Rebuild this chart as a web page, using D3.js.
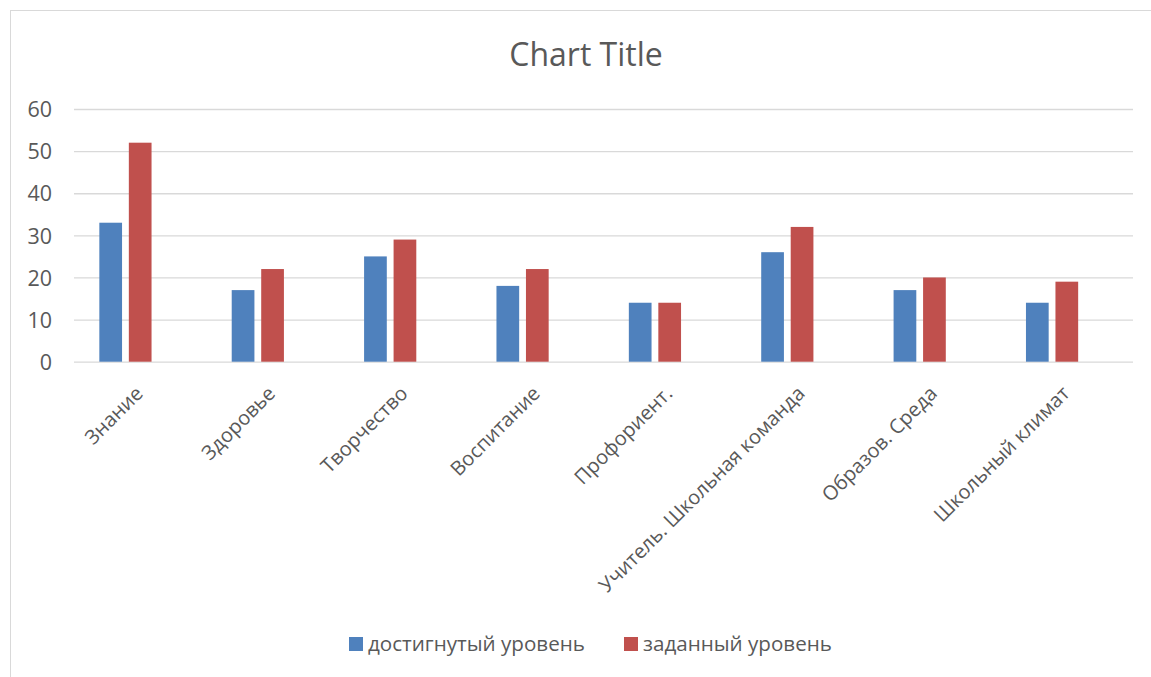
<!DOCTYPE html>
<html>
<head>
<meta charset="utf-8">
<script src="https://cdn.jsdelivr.net/npm/d3@7"></script>
<style>
	body { margin: 0; background: #fff; }
	text { font-family: "Open Sans", sans-serif; fill: #595959; }
</style>
</head>
<body>
<div class="container"></div>
<script>

var categories = ["Знание", "Здоровье", "Творчество", "Воспитание", "Профориент.",
				  "Учитель. Школьная команда", "Образов. Среда", "Школьный климат"];
var achieved = [33, 17, 25, 18, 14, 26, 17, 14]; // достигнутый уровень
var target = [52, 22, 29, 22, 14, 32, 20, 19];   // заданный уровень
var seriesNames = ["достигнутый уровень", "заданный уровень"];
var seriesColors = ["#4f81bd", "#c0504d"];
var yTicks = [0, 10, 20, 30, 40, 50, 60];

var W = 1151, H = 677;
var plotLeft = 74, plotRight = 1133, plotTop = 109, plotBottom = 361.7;

function makeStage(w, h) {
	var stage = d3.select(".container")
				  .append("svg")
				  .attr("width", w)
				  .attr("height", h);
	return stage;
}

var stage = makeStage(W, H);

// chart frame (runs past the window on the right and bottom)
stage.append("rect")
	 .attr("x", 10.5).attr("y", 10.5)
	 .attr("width", 1200).attr("height", 700)
	 .style("fill", "none")
	 .style("stroke", "#d9d9d9")
	 .style("stroke-width", "1px");

stage.append("text")
	 .attr("x", 586).attr("y", 66)
	 .attr("text-anchor", "middle")
	 .style("font-size", "32px")
	 .text("Chart Title");

var y = d3.scaleLinear().domain([0, 60]).range([plotBottom, plotTop]);
var x0 = d3.scaleBand().domain(categories).range([plotLeft, plotRight]);
// third slot is an empty series in the original, so the pair sits left of centre
var x1 = d3.scaleBand().domain([0, 1, 2])
		   .range([0, 81.7]).paddingInner(0.23);
var offset = (x0.bandwidth() - 81.7) / 2;

var yAxis = d3.axisLeft(y).tickValues(yTicks).tickSize(-(plotRight - plotLeft)).tickPadding(22);
var gy = stage.append("g")
			  .attr("transform", "translate(" + plotLeft + ",0)")
			  .call(yAxis);
gy.select(".domain").remove();
gy.selectAll("line").style("stroke", "#d9d9d9").style("stroke-width", "1.3px");
gy.selectAll("text").style("font-size", "21.5px").attr("dy", "0.36em");

var data = [achieved, target];
data.forEach(function (vals, s) {
	stage.append("g").selectAll("rect")
		 .data(vals)
		 .enter().append("rect")
		 .attr("x", function (d, i) { return x0(categories[i]) + offset + x1(s); })
		 .attr("width", x1.bandwidth())
		 .attr("y", function (d) { return y(d); })
		 .attr("height", function (d) { return y(0) - y(d); })
		 .style("fill", seriesColors[s]);
});

var xAxis = d3.axisBottom(x0).tickSize(0).tickPadding(0);
var gx = stage.append("g")
			  .attr("transform", "translate(0," + plotBottom + ")")
			  .call(xAxis);
gx.select(".domain").remove();
gx.selectAll("text")
  .style("font-size", "20px")
  .attr("text-anchor", "end")
  .attr("dy", "0")
  .attr("y", 0)
  .attr("transform", "translate(4,33) rotate(-45)");

// legend
var legend = stage.append("g");
var legendX = [349, 624];
seriesNames.forEach(function (name, s) {
	legend.append("rect")
		  .attr("x", legendX[s]).attr("y", 637)
		  .attr("width", 14).attr("height", 14)
		  .style("fill", seriesColors[s]);
	legend.append("text")
		  .attr("x", legendX[s] + 19).attr("y", 651)
		  .style("font-size", "20.6px")
		  .text(name);
});
</script>
</body>
</html>
